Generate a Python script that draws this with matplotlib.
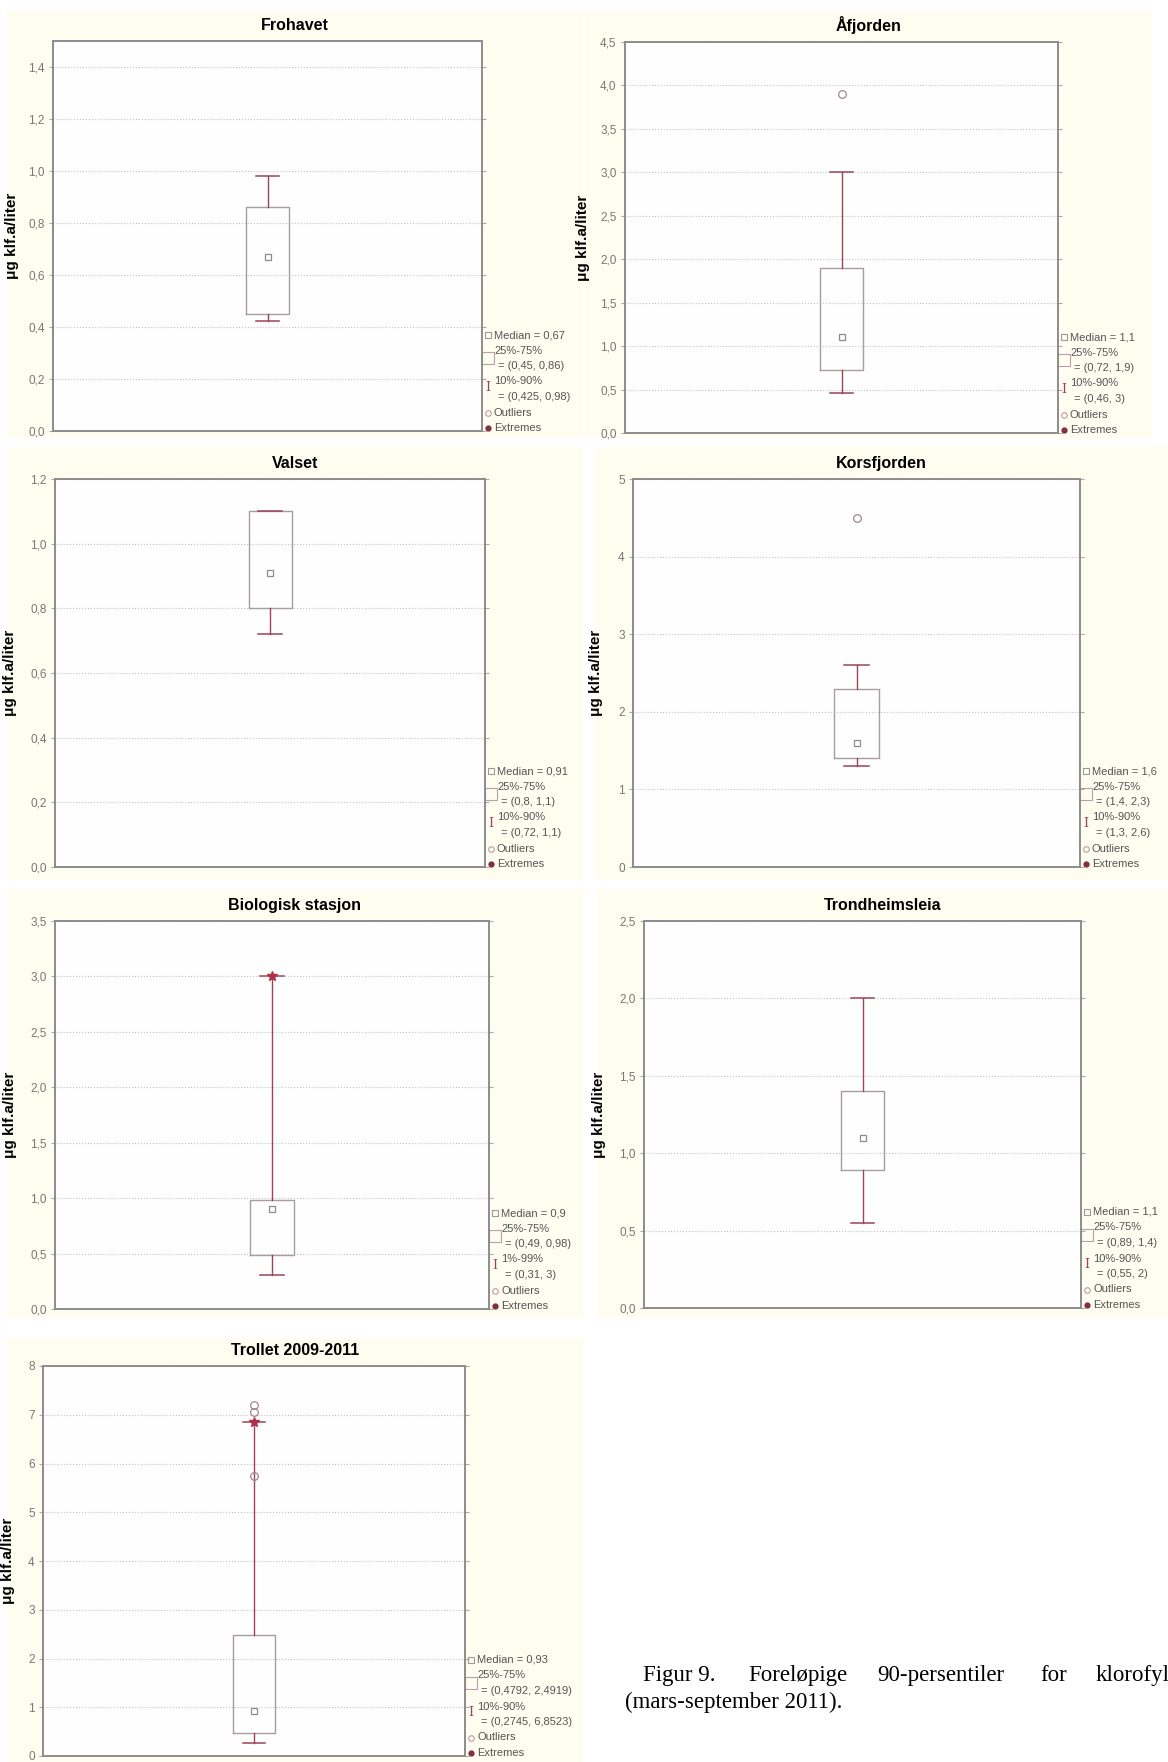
import matplotlib
matplotlib.use('Agg')
import matplotlib.pyplot as plt
import matplotlib.patches as patches
from matplotlib.ticker import MultipleLocator, FuncFormatter

plt.rcParams['font.family'] = ['Liberation Sans', 'DejaVu Sans']

# Data
stations = ["Frohavet", "Åfjorden", "Valset", "Korsfjorden",
            "Biologisk stasjon", "Trondheimsleia", "Trollet 2009-2011"]
medians = [0.67, 1.1, 0.91, 1.6, 0.9, 1.1, 0.93]
q1 = [0.45, 0.72, 0.8, 1.4, 0.49, 0.89, 0.4792]
q3 = [0.86, 1.9, 1.1, 2.3, 0.98, 1.4, 2.4919]
whisk_lo = [0.425, 0.46, 0.72, 1.3, 0.31, 0.55, 0.2745]
whisk_hi = [0.98, 3.0, 1.1, 2.6, 3.0, 2.0, 6.8523]
whisk_labels = ["10%-90%", "10%-90%", "10%-90%", "10%-90%", "1%-99%", "10%-90%", "10%-90%"]
outliers = [[], [3.9], [], [4.5], [], [], [5.75, 7.05, 7.2]]
extremes = [[], [], [], [], [3.0], [], [6.85]]
y_top = [1.5, 4.5, 1.2, 5, 3.5, 2.5, 8]
y_step = [0.2, 0.5, 0.2, 1, 0.5, 0.5, 1]

ylabel = "μg klf.a/liter"
caption_words = ["Figur 9.", "Foreløpige", "90-persentiler", "for", "klorofyl"]
caption_2 = "(mars-september 2011)."

# Layout in pixels of the 1168x1762 picture
W, H = 1168, 1762
AXES_PX = [(53, 41, 482, 431), (625, 42, 1058, 433),
           (55, 479, 485, 867), (633, 479, 1080, 867),
           (55, 921, 489, 1309), (644, 921, 1081, 1308),
           (43, 1366, 465, 1756)]
PANELS_PX = [(7, 11, 583, 438), (585, 11, 1152, 438),
             (7, 447, 583, 880), (595, 447, 1168, 880),
             (7, 889, 583, 1318), (597, 889, 1168, 1318),
             (7, 1338, 583, 1762)]
YLABEL_GAP = [34, 35, 38, 30, 38, 38, 28]
CAPTION_X = [643, 748, 877, 1040, 1096]   # justified first line

CREAM = '#fffcf0'
BOX = '#a89ca2'
WHISK = '#9c4458'
FRAME = '#8c8c8c'
TXT = '#555555'


def to_fig(x0, y0, x1, y1):
    return [x0 / W, 1 - y1 / H, (x1 - x0) / W, (y1 - y0) / H]


def num(v):
    return ('%g' % v).replace('.', ',')


def tick_fmt(step):
    if step < 1:
        return FuncFormatter(lambda v, p: ('%.1f' % v).replace('.', ','))
    return FuncFormatter(lambda v, p: '%d' % round(v))


fig = plt.figure(figsize=(W / 100, H / 100), dpi=100)

for i, name in enumerate(stations):
    # cream panel behind each pasted chart
    px0, py0, px1, py1 = PANELS_PX[i]
    fig.patches.append(patches.Rectangle(
        (px0 / W, 1 - py1 / H), (px1 - px0) / W, (py1 - py0) / H,
        transform=fig.transFigure, facecolor=CREAM, edgecolor='none', zorder=-10))

    x0, y0, x1, y1 = AXES_PX[i]
    axw, axh = x1 - x0, y1 - y0
    ax = fig.add_axes(to_fig(x0, y0, x1, y1))
    ax.set_zorder(1)
    ax.set_facecolor('#fefefe')

    stats = [dict(med=medians[i], q1=q1[i], q3=q3[i], whislo=whisk_lo[i],
                  whishi=whisk_hi[i], fliers=outliers[i], mean=medians[i])]
    ax.bxp(stats, positions=[0], widths=0.1, capwidths=0.054, showmeans=True,
           boxprops=dict(color=BOX, lw=1.0),
           whiskerprops=dict(color=WHISK, lw=1.0),
           capprops=dict(color=WHISK, lw=1.1),
           medianprops=dict(linestyle='none'),
           meanprops=dict(marker='s', markersize=5, markerfacecolor='none',
                          markeredgecolor='#8c8c8c', markeredgewidth=0.9),
           flierprops=dict(marker='o', markersize=5.5, markerfacecolor='none',
                           markeredgecolor='#a08890', markeredgewidth=0.9))
    if extremes[i]:
        ax.plot([0] * len(extremes[i]), extremes[i], ls='none', marker='*',
                markersize=7, color='#b0304c', zorder=5)

    ax.set_xlim(-0.5, 0.5)
    ax.set_ylim(0, y_top[i])
    ax.set_xticks([])
    ax.yaxis.set_major_locator(MultipleLocator(y_step[i]))
    ax.yaxis.set_major_formatter(tick_fmt(y_step[i]))
    ax.tick_params(axis='y', direction='out', length=3, width=0.8, color='#aaaaaa',
                   labelcolor='#777777', labelsize=8.5, right=True, pad=3)
    for s in ax.spines.values():
        s.set_color(FRAME)
        s.set_linewidth(1.4)
    ax.grid(axis='y', ls=':', color='#c4c4c4', lw=0.8)
    ax.set_axisbelow(True)

    # title is centred on the whole pasted panel, not on the frame
    title_x = ((px0 + px1) / 2 - x0) / axw
    ax.set_title(name, x=title_x, fontsize=11.5, fontweight='bold', pad=8)
    ax.set_ylabel(ylabel, fontsize=11, fontweight='bold')
    ax.yaxis.set_label_coords(-YLABEL_GAP[i] / axw, 0.5)

    # Statistica style legend at lower right, outside the frame
    lines = ["Median = " + num(medians[i]),
             "25%-75%",
             "= (%s, %s)" % (num(q1[i]), num(q3[i])),
             whisk_labels[i],
             "= (%s, %s)" % (num(whisk_lo[i]), num(whisk_hi[i])),
             "Outliers",
             "Extremes"]
    step = 15.5
    for k, t in enumerate(lines):
        yy = (3 + (6 - k) * step) / axh
        xx = 1 + (16 if t.startswith('=') else 12) / axw
        ax.text(xx, yy, t, transform=ax.transAxes, fontsize=8, color=TXT,
                va='center', ha='left', clip_on=False)
    mx = 1 + 6 / axw
    ax.plot([mx], [(3 + 6 * step) / axh], transform=ax.transAxes, clip_on=False,
            marker='s', ms=4, mfc='none', mec='#999999', mew=0.8)
    ax.plot([mx], [(3 + 4.5 * step) / axh], transform=ax.transAxes, clip_on=False,
            marker='s', ms=8, mfc='none', mec='#b8a0a8', mew=0.8)
    ax.text(mx, (3 + 2.6 * step) / axh, "I", transform=ax.transAxes, clip_on=False,
            family='DejaVu Serif', fontsize=9, color=WHISK, ha='center', va='center')
    ax.plot([mx], [(3 + 1 * step) / axh], transform=ax.transAxes, clip_on=False,
            marker='o', ms=4, mfc='none', mec='#c09aa4', mew=0.8)
    ax.plot([mx], [3 / axh], transform=ax.transAxes, clip_on=False,
            marker='o', ms=3.5, mfc='#803040', mec='#803040')

# figure caption from the report page (first line is justified)
for word, cx in zip(caption_words, CAPTION_X):
    fig.text(cx / W, 1 - 1681 / H, word, family='Liberation Serif', fontsize=16.5,
             va='baseline', ha='left')
fig.text(625 / W, 1 - 1708 / H, caption_2, family='Liberation Serif', fontsize=16.5,
         va='baseline', ha='left')

fig.savefig('out.png', dpi=100, facecolor='white')
